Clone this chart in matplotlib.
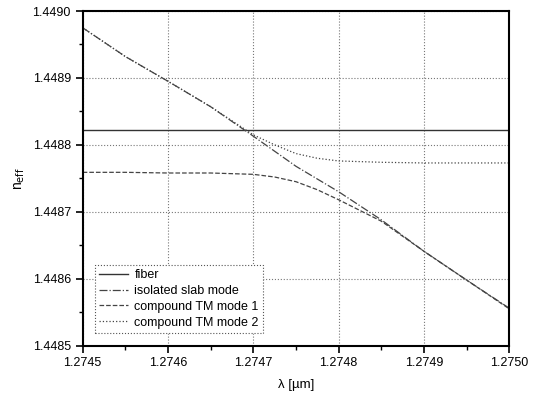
import numpy as np
import matplotlib.pyplot as plt
from matplotlib.ticker import MultipleLocator, FormatStrFormatter

plt.rcParams['font.family'] = ['Liberation Sans', 'DejaVu Sans']

# values
wl_fiber = [1.2745, 1.2750]
n_fiber = [1.448822, 1.448822]

wl_slab = [1.27450, 1.27455, 1.27460, 1.27465, 1.27470, 1.27475,
           1.27480, 1.27485, 1.27490, 1.27495, 1.27500]
n_slab = [1.448975, 1.448932, 1.448895, 1.448857, 1.448813, 1.448768,
          1.448730, 1.448688, 1.448641, 1.448598, 1.448556]

wl_tm1 = [1.27450, 1.27455, 1.27460, 1.27465, 1.27470, 1.274725, 1.27475,
          1.274775, 1.27480, 1.274825, 1.27485, 1.27490, 1.27495, 1.27500]
n_tm1 = [1.448759, 1.448759, 1.448758, 1.448758, 1.448756, 1.448752, 1.448745,
         1.448733, 1.448718, 1.448702, 1.448686, 1.448641, 1.448598, 1.448555]

wl_tm2 = [1.27450, 1.27455, 1.27460, 1.27465, 1.274675, 1.27470, 1.274725,
          1.27475, 1.274775, 1.27480, 1.27485, 1.27490, 1.27500]
n_tm2 = [1.448975, 1.448932, 1.448895, 1.448857, 1.448836, 1.448815, 1.448800,
         1.448787, 1.448780, 1.448776, 1.448774, 1.448773, 1.448773]

fig = plt.figure(figsize=(5.39, 3.99), dpi=100)
ax = fig.add_axes([0.1534, 0.1336, 0.7915, 0.8388])

ax.plot(wl_fiber, n_fiber, '-', color='#333333', lw=1.0, label='fiber')
ax.plot(wl_slab, n_slab, '-.', color='#444444', lw=0.9, label='isolated slab mode')
ax.plot(wl_tm1, n_tm1, '--', color='#444444', lw=0.9, label='compound TM mode 1')
ax.plot(wl_tm2, n_tm2, ':', color='#444444', lw=0.9, label='compound TM mode 2')

ax.set_xlim(1.2745, 1.2750)
ax.set_ylim(1.4485, 1.4490)
ax.xaxis.set_major_locator(MultipleLocator(0.0001))
ax.xaxis.set_minor_locator(MultipleLocator(0.00005))
ax.yaxis.set_major_locator(MultipleLocator(0.0001))
ax.yaxis.set_minor_locator(MultipleLocator(0.00005))
ax.xaxis.set_major_formatter(FormatStrFormatter('%.4f'))
ax.yaxis.set_major_formatter(FormatStrFormatter('%.4f'))
ax.tick_params(which='major', direction='out', length=5, width=1.2, labelsize=9)
ax.tick_params(which='minor', direction='out', length=3, width=1.0)
ax.grid(True, which='major', ls=':', color='#777777', lw=0.8)

for s in ax.spines.values():
    s.set_linewidth(1.5)
    s.set_color('black')

ax.set_xlabel('λ [µm]', fontsize=9.5, labelpad=7)
ax.set_ylabel(r'n$_{\mathrm{eff}}$', fontsize=10, labelpad=4)

leg = ax.legend(loc='lower left', bbox_to_anchor=(0.029, 0.038), borderaxespad=0,
                fontsize=9, handlelength=2.3, handletextpad=0.5,
                labelspacing=0.3, borderpad=0.35, fancybox=False, framealpha=1)
leg.get_frame().set_edgecolor('#555555')
leg.get_frame().set_linestyle(':')
leg.get_frame().set_linewidth(0.8)

fig.savefig('out.png', dpi=100)
